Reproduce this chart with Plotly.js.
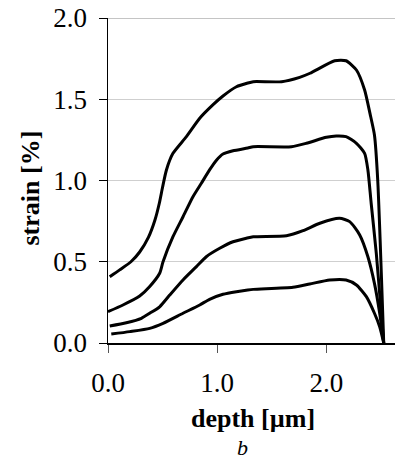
<!DOCTYPE html>
<html>
<head>
<meta charset="utf-8">
<script src="https://cdn.plot.ly/plotly-3.0.1.min.js"></script>
<style>html,body{margin:0;padding:0;background:#fff;}#chart{width:395px;height:459px;}</style>
</head>
<body>
<div id="chart"></div>
<script>
// depth [µm] and strain [%] for four curves
const depth1 = [0.016,0.107,0.21,0.29,0.37,0.43,0.47,0.50,0.535,0.595,0.718,0.84,0.96,1.053,1.176,1.28,1.33,1.59,1.755,1.85,2.076,2.18,2.275,2.35,2.40,2.44,2.47,2.525];
const strain1 = [0.408,0.45,0.50,0.56,0.65,0.757,0.86,0.96,1.065,1.167,1.27,1.383,1.465,1.52,1.577,1.60,1.608,1.608,1.635,1.66,1.737,1.737,1.68,1.557,1.41,1.28,1.003,0.0];

const depth2 = [0.0,0.137,0.29,0.38,0.473,0.504,0.595,0.687,0.778,0.855,0.93,0.993,1.053,1.145,1.28,1.33,1.68,1.817,2.0,2.09,2.18,2.275,2.35,2.38,2.41,2.457,2.50,2.525];
const strain2 = [0.193,0.234,0.289,0.346,0.429,0.50,0.654,0.777,0.90,0.983,1.065,1.125,1.163,1.183,1.20,1.208,1.208,1.229,1.266,1.274,1.27,1.229,1.167,1.065,0.86,0.552,0.203,0.0];

const depth3 = [0.016,0.168,0.306,0.382,0.473,0.565,0.687,0.81,0.90,1.023,1.145,1.267,1.33,1.634,1.786,1.94,2.12,2.213,2.305,2.38,2.44,2.488,2.525];
const strain3 = [0.105,0.125,0.152,0.183,0.223,0.295,0.388,0.47,0.531,0.583,0.623,0.645,0.654,0.66,0.691,0.737,0.767,0.747,0.665,0.531,0.367,0.183,0.0];

const depth4 = [0.03,0.2,0.382,0.504,0.687,0.84,0.93,1.053,1.176,1.28,1.33,1.694,1.847,2.03,2.18,2.275,2.366,2.44,2.488,2.525];
const strain4 = [0.055,0.07,0.09,0.121,0.183,0.234,0.269,0.30,0.316,0.326,0.33,0.343,0.363,0.388,0.388,0.357,0.285,0.183,0.10,0.0];

const xTickVals = [0, 1, 2];
const xTickText = ["0.0", "1.0", "2.0"];
const yTickVals = [0, 0.5, 1.0, 1.5, 2.0];
const yTickText = ["0.0", "0.5", "1.0", "1.5", "2.0"];

const W = 395, H = 459;
const mL = 108, mR = 0, mT = 18, mB = 116;
const pw = W - mL - mR, ph = H - mT - mB;
function px2paperX(px){ return (px - mL) / pw; }
function px2paperY(py){ return (H - mB - py) / ph; }

const serif = '"Liberation Serif", "Times New Roman", Times, serif';
const line = {color: "#000", width: 3, shape: "spline", smoothing: 0.6};
const traces = [
  {x: depth1, y: strain1, mode: "lines", line: line, showlegend: false},
  {x: depth2, y: strain2, mode: "lines", line: line, showlegend: false},
  {x: depth3, y: strain3, mode: "lines", line: line, showlegend: false},
  {x: depth4, y: strain4, mode: "lines", line: line, showlegend: false}
];

const layout = {
  width: W, height: H,
  margin: {l: mL, r: mR, t: mT, b: mB, pad: 0},
  paper_bgcolor: "#fff", plot_bgcolor: "#fff",
  font: {family: serif, color: "#000", size: 27},
  xaxis: {
    range: [0, pw / 109.2], tickvals: xTickVals, ticktext: xTickText,
    ticks: "outside", ticklen: 8, tickcolor: "#555", tickwidth: 1,
    showgrid: false, zeroline: false,
    showline: true, linecolor: "#000", linewidth: 1.5,
    tickfont: {family: serif, size: 27, color: "#000"},
    ticklabelstandoff: 7,
    fixedrange: true
  },
  yaxis: {
    range: [0, 2], tickvals: yTickVals, ticktext: yTickText,
    ticks: "outside", ticklen: 8, tickcolor: "#000", tickwidth: 1,
    showgrid: true, gridcolor: "#cfcfcf", gridwidth: 1.2, zeroline: false,
    showline: true, linecolor: "#000", linewidth: 1.5,
    tickfont: {family: serif, size: 27, color: "#000"},
    ticklabelstandoff: 6,
    fixedrange: true
  },
  shapes: [
    {type: "line", xref: "paper", yref: "y", x0: 0, x1: 1, y0: 2, y1: 2, line: {color: "#8a8a8a", width: 1.2}, layer: "below"}
  ],
  annotations: [
    {text: "<b>depth [µm]</b>", xref: "paper", yref: "paper", x: px2paperX(252.5), y: px2paperY(418),
     xanchor: "center", yanchor: "middle", showarrow: false, font: {family: serif, size: 26, color: "#000"}},
    {text: "<i>b</i>", xref: "paper", yref: "paper", x: px2paperX(242), y: px2paperY(447),
     xanchor: "center", yanchor: "middle", showarrow: false, font: {family: serif, size: 22, color: "#000"}},
    {text: "<b>strain [%]</b>", xref: "paper", yref: "paper", x: px2paperX(30), y: px2paperY(188.5),
     xanchor: "center", yanchor: "middle", textangle: -90, showarrow: false, font: {family: serif, size: 26, color: "#000"}}
  ]
};

Plotly.newPlot("chart", traces, layout, {displayModeBar: false, staticPlot: true});
</script>
</body>
</html>
